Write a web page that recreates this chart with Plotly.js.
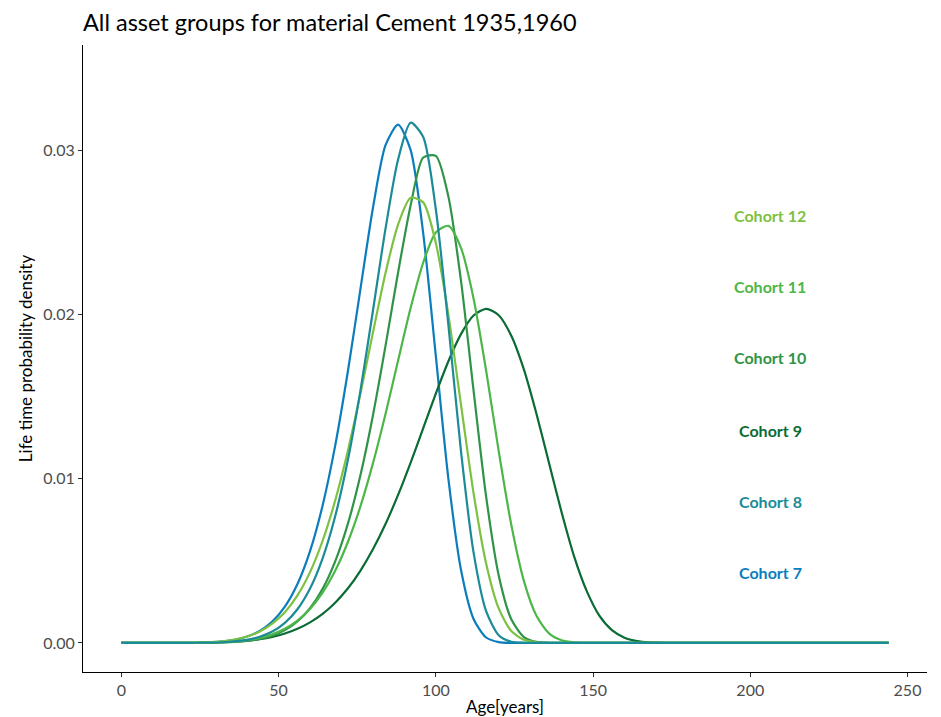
<!DOCTYPE html>
<html>
<head>
<meta charset="utf-8">
<script src="https://cdn.plot.ly/plotly-3.0.1.min.js"></script>
<style>
html,body{margin:0;padding:0;background:#fff;}
#chart{width:941px;height:717px;}
</style>
</head>
<body>
<div id="chart"></div>
<script>
const ages = [0,4,8,12,16,20,24,28,32,36,40,44,48,52,56,60,64,68,72,76,80,84,88,92,96,100,104,108,112,116,120,124,128,132,136,140,144,148,152,156,160,164,168,172,176,180,184,188,192,196,200,204,208,212,216,220,224,228,232,236,240,244];

const cohort7 = [0,0,0,0,0,0,0.00001,0.00004,0.00009,0.00019,0.00039,0.00073,0.00130,0.00221,0.00359,0.00559,0.00837,0.01201,0.01649,0.02151,0.02648,0.03030,0.03155,0.03000,0.02492,0.01747,0.00999,0.00445,0.00146,0.00033,0.00005,0,0,0,0,0,0,0,0,0,0,0,0,0,0,0,0,0,0,0,0,0,0,0,0,0,0,0,0,0,0,0];
const cohort8 = [0,0,0,0,0,0,0.00001,0.00002,0.00004,0.00009,0.00019,0.00038,0.00069,0.00122,0.00205,0.00331,0.00515,0.00771,0.01110,0.01533,0.02022,0.02522,0.02943,0.03167,0.03080,0.02640,0.01935,0.01167,0.00551,0.00193,0.00047,0.00007,0.00001,0,0,0,0,0,0,0,0,0,0,0,0,0,0,0,0,0,0,0,0,0,0,0,0,0,0,0,0,0];
const cohort9 = [0,0,0,0,0,0,0.00001,0.00002,0.00004,0.00008,0.00014,0.00023,0.00037,0.00057,0.00086,0.00125,0.00177,0.00245,0.00331,0.00439,0.00570,0.00724,0.00901,0.01098,0.01307,0.01518,0.01715,0.01880,0.01993,0.02034,0.01995,0.01870,0.01665,0.01395,0.01095,0.00795,0.00525,0.00315,0.00166,0.00078,0.00032,0.00011,0.00003,0.00001,0,0,0,0,0,0,0,0,0,0,0,0,0,0,0,0,0,0];
const cohort10 = [0,0,0,0,0,0,0,0.00001,0.00003,0.00006,0.00012,0.00024,0.00044,0.00078,0.00131,0.00211,0.00329,0.00496,0.00723,0.01019,0.01385,0.01808,0.02255,0.02665,0.02955,0.02965,0.02717,0.02205,0.01537,0.00891,0.00411,0.00144,0.00036,0.00006,0.00001,0,0,0,0,0,0,0,0,0,0,0,0,0,0,0,0,0,0,0,0,0,0,0,0,0,0,0];
const cohort11 = [0,0,0,0,0,0,0.00001,0.00002,0.00004,0.00009,0.00017,0.00031,0.00053,0.00086,0.00136,0.00207,0.00306,0.00439,0.00613,0.00830,0.01093,0.01394,0.01719,0.02040,0.02316,0.02499,0.02539,0.02405,0.02097,0.01658,0.01168,0.00719,0.00378,0.00165,0.00058,0.00016,0.00003,0,0,0,0,0,0,0,0,0,0,0,0,0,0,0,0,0,0,0,0,0,0,0,0,0];
const cohort12 = [0,0,0,0,0,0.00001,0.00002,0.00005,0.00010,0.00021,0.00039,0.00069,0.00117,0.00187,0.00289,0.00431,0.00622,0.00867,0.01167,0.01515,0.01889,0.02252,0.02547,0.02710,0.02682,0.02435,0.01997,0.01451,0.00912,0.00484,0.00210,0.00072,0.00019,0.00004,0,0,0,0,0,0,0,0,0,0,0,0,0,0,0,0,0,0,0,0,0,0,0,0,0,0,0,0];

const cohortNames = ["Cohort 7","Cohort 8","Cohort 9","Cohort 10","Cohort 11","Cohort 12"];
const cohortColors = ["#0b7dbd","#1b8b98","#0a6b35","#2f9447","#4cb748","#7dc142"];
const labelX = [206.4,206.4,206.4,206.4,206.4,206.4];
const labelY = [0.00426,0.00864,0.01296,0.01735,0.02167,0.02605];

const series = [cohort7, cohort8, cohort9, cohort10, cohort11, cohort12];
const drawOrder = [0,2,3,4,5,1];

const traces = drawOrder.map(i => ({
  type: 'scatter',
  mode: 'lines',
  x: ages,
  y: series[i],
  name: cohortNames[i],
  line: {color: cohortColors[i], width: 2.2, shape: 'spline', smoothing: 0.7},
  hoverinfo: 'x+y+name'
}));

const FONT = 'Lato, "Open Sans", sans-serif';

const annotations = cohortNames.map((n, i) => ({
  x: labelX[i], y: labelY[i], xref: 'x', yref: 'y',
  text: '<b>' + n + '</b>', showarrow: false,
  font: {family: FONT, size: 16, color: cohortColors[i]},
  xanchor: 'center', yanchor: 'middle'
}));

const layout = {
  width: 941, height: 717,
  paper_bgcolor: '#fff', plot_bgcolor: '#fff',
  margin: {l: 83, r: 14, t: 45, b: 45},
  showlegend: false,
  font: {family: FONT, color: '#000'},
  title: {
    text: 'All asset groups for material Cement 1935,1960',
    x: 83/941, xanchor: 'left', xref: 'container',
    y: 1 - 23/717, yanchor: 'middle', yref: 'container',
    font: {family: FONT, size: 23.5, color: '#000'}
  },
  xaxis: {
    range: [-12.2, 256.2],
    tickvals: [0, 50, 100, 150, 200, 250],
    ticktext: ['0', '50', '100', '150', '200', '250'],
    showgrid: false, zeroline: false,
    showline: true, linecolor: '#000', linewidth: 1,
    ticks: 'outside', ticklen: 4, tickcolor: '#333', tickwidth: 1,
    tickfont: {size: 16, color: '#4d4d4d'},
    title: {text: 'Age[years]', font: {size: 17, color: '#000'}, standoff: 2}
  },
  yaxis: {
    range: [-0.00177, 0.0364],
    tickvals: [0, 0.01, 0.02, 0.03],
    ticktext: ['0.00', '0.01', '0.02', '0.03'],
    showgrid: false, zeroline: false,
    showline: true, linecolor: '#000', linewidth: 1,
    ticks: 'outside', ticklen: 4, tickcolor: '#333', tickwidth: 1,
    tickfont: {size: 16, color: '#4d4d4d'},
    title: {text: 'Life time probability density', font: {size: 17, color: '#000'}, standoff: 6}
  },
  annotations: annotations
};

Plotly.newPlot('chart', traces, layout, {displayModeBar: false, staticPlot: true});
</script>
</body>
</html>
